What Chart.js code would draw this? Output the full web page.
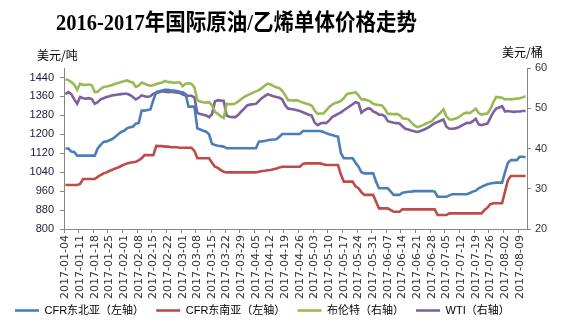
<!DOCTYPE html>
<html><head><meta charset="utf-8">
<script src="https://cdn.jsdelivr.net/npm/chart.js@4/dist/chart.umd.min.js"></script>
<style>
html,body{margin:0;padding:0;background:#fff;}
#wrap{position:relative;width:572px;height:322px;overflow:hidden;background:#fff;}
#c{position:absolute;left:0;top:0;}
#title{position:absolute;left:56px;top:9px;font:bold 20.5px "Liberation Serif","Noto Sans CJK SC",serif;line-height:26px;color:#000;white-space:nowrap;transform:scaleY(1.12);transform-origin:0 50%;}
.unit{position:absolute;font:12px "Noto Sans CJK SC",sans-serif;color:#000;white-space:nowrap;line-height:14px;}
</style></head><body>
<div id="wrap">
<canvas id="c" width="572" height="322"></canvas>
<div id="title">2016-2017年国际原油/乙烯单体价格走势</div>
<div class="unit" style="left:37px;top:48px">美元/吨</div>
<div class="unit" style="left:502px;top:45px">美元/桶</div>
</div>
<script>
const dates = [
'2017-01-04','2017-01-05','2017-01-06','2017-01-09','2017-01-10','2017-01-11','2017-01-12','2017-01-13','2017-01-16','2017-01-17',
'2017-01-18','2017-01-19','2017-01-20','2017-01-23','2017-01-24','2017-01-25','2017-01-26','2017-01-27','2017-01-30','2017-01-31',
'2017-02-01','2017-02-02','2017-02-03','2017-02-06','2017-02-07','2017-02-08','2017-02-09','2017-02-10','2017-02-13','2017-02-14',
'2017-02-15','2017-02-16','2017-02-17','2017-02-20','2017-02-21','2017-02-22','2017-02-23','2017-02-24','2017-02-27','2017-02-28',
'2017-03-01','2017-03-02','2017-03-03','2017-03-06','2017-03-07','2017-03-08','2017-03-09','2017-03-10','2017-03-13','2017-03-14',
'2017-03-15','2017-03-16','2017-03-17','2017-03-20','2017-03-21','2017-03-22','2017-03-23','2017-03-24','2017-03-27','2017-03-28',
'2017-03-29','2017-03-30','2017-03-31','2017-04-03','2017-04-04','2017-04-05','2017-04-06','2017-04-07','2017-04-10','2017-04-11',
'2017-04-12','2017-04-13','2017-04-14','2017-04-17','2017-04-18','2017-04-19','2017-04-20','2017-04-21','2017-04-24','2017-04-25',
'2017-04-26','2017-04-27','2017-04-28','2017-05-01','2017-05-02','2017-05-03','2017-05-04','2017-05-05','2017-05-08','2017-05-09',
'2017-05-10','2017-05-11','2017-05-12','2017-05-15','2017-05-16','2017-05-17','2017-05-18','2017-05-19','2017-05-22','2017-05-23',
'2017-05-24','2017-05-25','2017-05-26','2017-05-29','2017-05-30','2017-05-31','2017-06-01','2017-06-02','2017-06-05','2017-06-06',
'2017-06-07','2017-06-08','2017-06-09','2017-06-12','2017-06-13','2017-06-14','2017-06-15','2017-06-16','2017-06-19','2017-06-20',
'2017-06-21','2017-06-22','2017-06-23','2017-06-26','2017-06-27','2017-06-28','2017-06-29','2017-06-30','2017-07-03','2017-07-04',
'2017-07-05','2017-07-06','2017-07-07','2017-07-10','2017-07-11','2017-07-12','2017-07-13','2017-07-14','2017-07-17','2017-07-18',
'2017-07-19','2017-07-20','2017-07-21','2017-07-24','2017-07-25','2017-07-26','2017-07-27','2017-07-28','2017-07-31','2017-08-01',
'2017-08-02','2017-08-03','2017-08-04','2017-08-07','2017-08-08','2017-08-09','2017-08-10','2017-08-11'
];
const cfrNEAsia = [
1140,1140,1127,1125,1110,1110,1110,1110,1110,1110,
1110,1140,1155,1168,1170,1175,1180,1190,1200,1210,
1215,1225,1230,1232,1245,1248,1300,1300,1303,1305,
1345,1378,1382,1385,1388,1388,1385,1385,1383,1380,
1378,1370,1317,1317,1317,1225,1220,1215,1211,1200,
1160,1155,1152,1150,1148,1141,1141,1141,1141,1141,
1141,1141,1141,1141,1141,1141,1169,1170,1172,1175,
1177,1178,1179,1190,1201,1201,1201,1201,1201,1201,
1201,1214,1214,1214,1214,1214,1214,1214,1210,1205,
1200,1197,1193,1190,1120,1099,1099,1099,1099,1080,
1063,1040,1035,1035,1035,1035,1000,972,972,972,
972,958,944,944,944,953,955,957,958,960,
960,960,960,960,960,960,958,936,936,936,
936,942,947,947,947,947,947,947,952,958,
962,972,978,984,989,992,994,996,996,996,
1040,1080,1091,1091,1091,1105,1105,1103
];
const cfrSEAsia = [
986,986,986,986,986,990,1011,1011,1011,1011,
1011,1020,1028,1035,1039,1045,1050,1056,1060,1066,
1072,1077,1080,1082,1084,1090,1099,1112,1112,1112,
1112,1151,1150,1150,1148,1148,1145,1145,1145,1143,
1143,1143,1143,1143,1130,1099,1099,1099,1099,1099,
1080,1063,1058,1049,1042,1039,1039,1039,1039,1039,
1039,1039,1039,1039,1039,1039,1042,1045,1046,1048,
1049,1052,1055,1060,1063,1063,1063,1063,1063,1063,
1063,1075,1077,1077,1077,1077,1077,1077,1073,1070,
1070,1070,1070,1070,1030,1000,1000,1000,1000,980,
972,955,944,944,944,944,915,887,887,887,
887,880,873,873,873,883,883,883,883,883,
883,883,883,883,883,883,883,859,859,859,
859,866,866,866,866,866,866,866,866,866,
866,866,866,880,890,905,909,909,909,909,
958,1007,1024,1024,1024,1024,1024,1024
];
const brent = [
57.2,57.0,56.5,55.8,54.6,56.1,55.8,55.8,55.9,55.7,
54.0,54.1,54.8,55.3,55.4,55.6,55.8,56.1,56.3,56.5,
56.7,56.9,56.6,56.4,55.3,55.6,56.4,56.1,55.8,55.6,
55.7,56.0,56.2,56.4,56.8,56.5,56.5,56.3,56.4,56.4,
55.5,56.1,56.2,56.1,55.2,52.0,51.7,51.5,51.4,51.5,
50.7,49.1,48.6,48.0,47.6,51.1,51.0,51.0,51.2,51.7,
52.3,52.8,53.2,53.5,53.9,54.2,54.5,55.0,55.6,56.1,
55.9,55.5,55.2,55.0,54.3,53.2,52.0,52.0,51.9,52.0,
51.7,51.4,51.2,51.0,50.7,49.5,48.6,48.7,48.7,49.5,
50.3,50.9,51.3,51.5,51.8,52.5,53.5,53.7,53.8,54.0,
53.2,52.2,52.2,52.0,51.7,51.1,50.9,50.8,50.7,49.8,
48.6,48.6,48.5,48.6,48.3,47.5,47.4,47.3,46.5,45.8,
45.3,45.5,45.8,46.2,46.5,46.8,47.6,48.2,48.9,49.7,
48.0,47.2,47.2,47.4,47.7,48.2,48.7,48.9,48.8,49.3,
49.9,48.8,48.4,48.6,48.7,49.8,51.5,52.8,52.7,52.6,
52.2,52.3,52.2,52.3,52.4,52.5,52.7,53.0
];
const wti = [
53.5,54.0,53.5,52.2,51.1,52.8,52.5,52.4,52.5,52.3,
51.1,51.5,52.2,52.5,52.8,53.0,53.2,53.3,53.4,53.5,
53.6,53.6,53.3,52.8,52.2,52.6,53.2,53.0,52.8,53.0,
53.6,53.8,54.0,54.2,54.1,54.0,54.1,54.0,53.9,53.8,
53.4,53.2,53.1,53.1,52.7,48.8,48.6,48.4,48.2,47.8,
48.5,51.7,52.0,51.9,51.8,48.2,47.9,47.8,47.8,48.4,
49.2,49.9,50.7,50.9,51.0,51.1,51.8,52.5,53.0,53.5,
53.2,53.0,52.8,52.6,52.2,50.7,49.9,49.8,49.7,49.5,
49.3,49.0,48.7,48.4,48.2,46.5,45.8,46.2,46.4,46.3,
47.0,47.8,48.2,48.6,49.0,49.5,50.0,50.5,51.0,51.5,
51.3,48.9,49.5,49.9,49.9,49.2,48.9,48.4,48.4,48.0,
46.8,46.6,46.4,46.3,46.2,45.5,44.9,44.7,44.5,44.3,
44.1,44.3,44.6,44.9,45.3,45.8,46.3,46.6,46.9,47.2,
45.4,44.9,44.9,45.0,45.2,45.6,46.0,46.4,46.3,46.8,
47.4,46.0,45.8,46.0,46.2,47.6,49.0,49.9,50.2,50.5,
49.2,49.3,49.2,49.1,49.2,49.2,49.3,49.3
];
const leftTicks = [800,880,960,1040,1120,1200,1280,1360,1440];
const rightTicks = [20,30,40,50,60];
const seriesNames = ['CFR东北亚（左轴）','CFR东南亚（左轴）','布伦特（右轴）','WTI（右轴）'];
const seriesColors = ['#4A7EBB','#BE4B48','#98B954','#7D60A0'];
const labelEvery = 5;

const axisGray = '#868686';
const seriesData = [cfrNEAsia, cfrSEAsia, brent, wti];
const seriesAxis = ['y','y','y1','y1'];

new Chart(document.getElementById('c'), {
  type: 'line',
  data: {
    labels: dates,
    datasets: seriesNames.map((n, k) => ({
      label: n,
      data: seriesData[k],
      yAxisID: seriesAxis[k],
      borderColor: seriesColors[k],
      backgroundColor: seriesColors[k],
      borderWidth: 2.6,
      pointRadius: 0,
      tension: 0,
      fill: false
    }))
  },
  options: {
    responsive: false,
    animation: false,
    layout: { padding: { left: 9, right: 0, top: 68, bottom: -4 } },
    plugins: {
      title: { display: false },
      tooltip: { enabled: false },
      legend: {
        position: 'bottom',
        align: 'start',
        labels: {
          usePointStyle: true,
          pointStyle: 'line',
          pointStyleWidth: 24,
          boxHeight: 11,
          padding: 6,
          color: '#000',
          font: { family: '"Liberation Sans","Noto Sans CJK SC",sans-serif', size: 11 },
          generateLabels: chart => Chart.defaults.plugins.legend.labels.generateLabels(chart)
            .map(item => Object.assign(item, { text: item.text + '  ' }))
        }
      }
    },
    scales: {
      x: {
        type: 'category',
        offset: true,
        grid: {
          display: true,
          drawOnChartArea: false,
          drawTicks: true,
          tickLength: 4,
          offset: true,
          color: ctx => (ctx.index % labelEvery === 0 ? axisGray : 'rgba(0,0,0,0)'),
          tickColor: ctx => (ctx.index % labelEvery === 0 ? axisGray : 'rgba(0,0,0,0)')
        },
        border: { display: true, color: axisGray, width: 1 },
        ticks: {
          autoSkip: false,
          maxRotation: 90,
          minRotation: 90,
          padding: 2,
          color: '#333',
          font: { family: '"DejaVu Sans",sans-serif', size: 11 },
          callback: (v, i) => (i % labelEvery === 0 ? dates[i] : '')
        },
        afterFit: s => { s.height = 70; }
      },
      y: {
        position: 'left',
        min: 800, max: 1480,
        afterBuildTicks: s => { s.ticks = leftTicks.map(v => ({ value: v })); },
        grid: { drawOnChartArea: false, drawTicks: true, tickLength: 4, color: axisGray },
        border: { display: true, color: axisGray },
        ticks: { padding: 6, color: '#1a1a3a', font: { family: '"Liberation Sans",sans-serif', size: 11 }, callback: v => String(v) },
        afterFit: s => { s.width = 55; }
      },
      y1: {
        position: 'right',
        min: 20, max: 60,
        afterBuildTicks: s => { s.ticks = rightTicks.map(v => ({ value: v })); },
        grid: { drawOnChartArea: false, drawTicks: true, tickLength: 4, color: axisGray },
        border: { display: true, color: axisGray },
        ticks: { padding: 4, color: '#333', font: { family: '"Liberation Sans",sans-serif', size: 11 }, callback: v => String(v) },
        afterFit: s => { s.width = 45; }
      }
    }
  }
});
</script>
</body></html>
